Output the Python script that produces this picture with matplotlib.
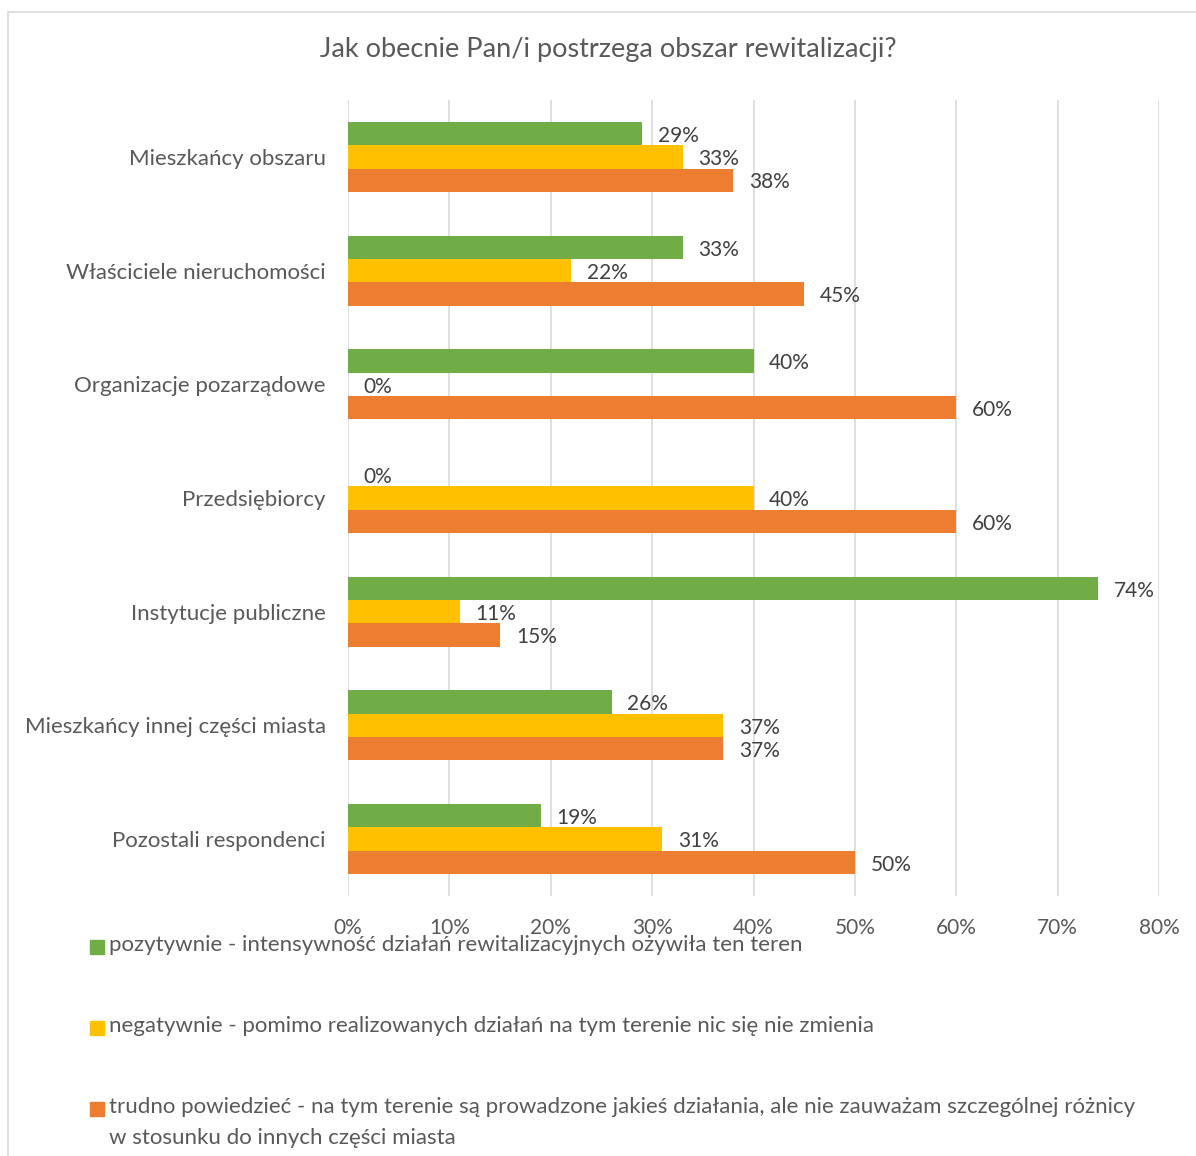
import matplotlib
matplotlib.use("Agg")
import matplotlib.pyplot as plt
from matplotlib.patches import Rectangle
import numpy as np

plt.rcParams['font.family'] = ['Lato', 'DejaVu Sans']

title = "Jak obecnie Pan/i postrzega obszar rewitalizacji?"
categories = [
    "Mieszkańcy obszaru",
    "Właściciele nieruchomości",
    "Organizacje pozarządowe",
    "Przedsiębiorcy",
    "Instytucje publiczne",
    "Mieszkańcy innej części miasta",
    "Pozostali respondenci",
]
series_names = [
    "pozytywnie - intensywność działań rewitalizacyjnych ożywiła ten teren",
    "negatywnie - pomimo realizowanych działań na tym terenie nic się nie zmienia",
    "trudno powiedzieć - na tym terenie są prowadzone jakieś działania, ale nie zauważam szczególnej różnicy\nw stosunku do innych części miasta",
]
pozytywnie = [29, 33, 40, 0, 74, 26, 19]
negatywnie = [33, 22, 0, 40, 11, 37, 31]
trudno = [38, 45, 60, 60, 15, 37, 50]
colors = ["#70AD47", "#FFC000", "#ED7D31"]
xticks = [0, 10, 20, 30, 40, 50, 60, 70, 80]

W, H = 1196, 1156
fig = plt.figure(figsize=(W / 100, H / 100), dpi=100)

# outer chart frame
fig.add_artist(Rectangle((8 / W, -0.01), 1.2, (H - 12) / H + 0.01,
                         transform=fig.transFigure, fill=False,
                         edgecolor="#D9D9D9", linewidth=1.2))

ax = fig.add_axes([348 / W, (H - 896) / H, (1159 - 348) / W, 796 / H])

y = np.arange(len(categories))
bh = 0.205
offsets = [-bh, 0, bh]
for vals, off, col in zip([pozytywnie, negatywnie, trudno], offsets, colors):
    bars = ax.barh(y + off, vals, height=bh, color=col, zorder=3)
    for b, v in zip(bars, vals):
        ax.text(v + 1.55, b.get_y() + b.get_height() / 2 + 0.02, f"{v}%",
                va="center", ha="left", fontsize=15, color="#404040")

ax.set_xlim(0, 80)
ax.set_ylim(len(categories) - 0.5, -0.5)
ax.set_xticks(xticks)
ax.set_xticklabels([f"{t}%" for t in xticks], fontsize=15, color="#595959")
ax.set_yticks(y)
ax.set_yticklabels(categories, fontsize=16, color="#595959")
ax.tick_params(axis="both", length=0)
ax.tick_params(axis="x", pad=16)
ax.tick_params(axis="y", pad=16)
ax.grid(axis="x", color="#D9D9D9", linewidth=1.2, zorder=0)
for s in ax.spines.values():
    s.set_visible(False)

fig.text(608 / W, 1 - 50 / H, title, ha="center", va="center",
         fontsize=19.5, color="#595959")

# legend entries stacked below the axis
leg_y = [947, 1028, 1109]
for name, col, ly in zip(series_names, colors, leg_y):
    fig.add_artist(Rectangle((90 / W, 1 - (ly + 7) / H), 14 / W, 14 / H,
                             transform=fig.transFigure, color=col))
    fig.text(109 / W, 1 - (ly - 12) / H, name, ha="left", va="top",
             fontsize=16, color="#595959", linespacing=1.7)

fig.savefig("out.png", dpi=100)
